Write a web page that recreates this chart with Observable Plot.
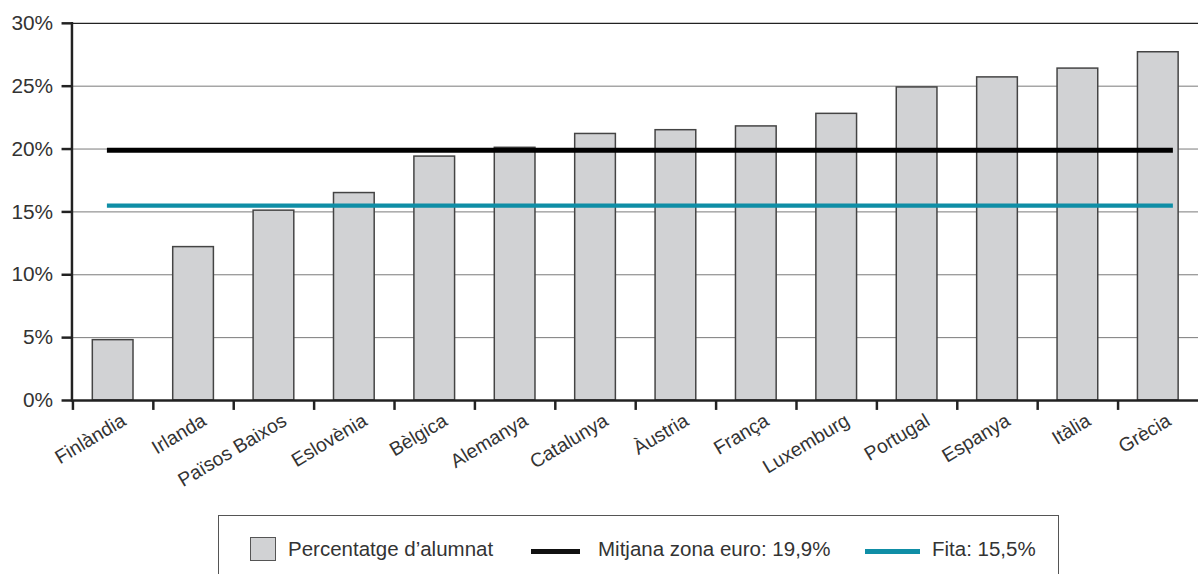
<!DOCTYPE html>
<html>
<head>
<meta charset="utf-8">
<script src="https://cdn.jsdelivr.net/npm/d3@7"></script>
<script src="https://cdn.jsdelivr.net/npm/@observablehq/plot@0.6"></script>
<style>
  html, body { margin: 0; padding: 0; background: #fff; overflow: hidden; }
  #wrap { position: relative; width: 1198px; height: 574px; overflow: hidden; font-family: "Liberation Sans", Arial, sans-serif; }
  #chart { position: absolute; left: 0; top: 0; }
  #chart .yax text { font-size: 21px; }
  #chart .xlab text { font-size: 19.5px; }
  #legend { position: absolute; left: 218px; top: 515px; width: 841px; height: 80px; border: 1px solid #555; box-sizing: border-box; }
  .lg { position: absolute; }
  .lt { position: absolute; font-size: 20.5px; line-height: 20px; color: #333; white-space: nowrap; }
</style>
</head>
<body>
<div id="wrap">
  <div id="chart"></div>
  <div id="legend"></div>
</div>
<script>
const countries = ["Finlàndia", "Irlanda", "Països Baixos", "Eslovènia", "Bèlgica", "Alemanya", "Catalunya", "Àustria", "França", "Luxemburg", "Portugal", "Espanya", "Itàlia", "Grècia"];
const values = [4.8, 12.2, 15.1, 16.5, 19.4, 20.1, 21.2, 21.5, 21.8, 22.8, 24.9, 25.7, 26.4, 27.7];
const euroMean = 19.9;
const target = 15.5;
const yTicks = [0, 5, 10, 15, 20, 25, 30];
const legendLabels = ["Percentatge d\u2019alumnat", "Mitjana zona euro: 19,9%", "Fita: 15,5%"];

const data = countries.map((c, i) => ({country: c, value: values[i]}));
const TEAL = "#0f8ea6";
const first = countries[0], last = countries[countries.length - 1];

const W = 1207;
const plot = Plot.plot({
  width: W,
  height: 500,
  marginLeft: 72,
  marginRight: 0,
  marginTop: 23,
  marginBottom: 97,
  style: {fontFamily: "Liberation Sans, Arial, sans-serif", fontSize: "19px", color: "#333", background: "transparent"},
  x: {domain: countries, paddingInner: 0.5, paddingOuter: 0.25, axis: null, label: null},
  y: {type: "linear", domain: [0, 30], axis: null, label: null},
  marks: [
    Plot.ruleY(yTicks.filter(d => d > 0 && d < 30), {stroke: "#7a7a7a", strokeWidth: 1}),
    Plot.ruleY([30], {stroke: "#222", strokeWidth: 1.2}),
    Plot.barY(data, {x: "country", y: "value", fill: "#d1d2d4", stroke: "#444", strokeWidth: 1.5}),
    Plot.ruleY([euroMean], {x1: () => first, x2: () => last, stroke: "#000", strokeWidth: 5, insetLeft: 14.7, insetRight: 5.3}),
    Plot.ruleY([target], {x1: () => first, x2: () => last, stroke: TEAL, strokeWidth: 4.5, insetLeft: 14.7, insetRight: 5.3}),
    Plot.frame({anchor: "left", stroke: "#222", strokeWidth: 2.5}),
    Plot.ruleY([0], {stroke: "#222", strokeWidth: 2.5}),
    Plot.axisY({ticks: yTicks, tickFormat: d => d + "%", tickSize: 10, tickPadding: 9, strokeWidth: 2.5, stroke: "#222", fill: "#333", label: null, className: "yax"}),
    Plot.ruleX(countries, {x: d => d, y1: 0, y2: 0, dx: -40.52, stroke: "#222", strokeWidth: 2.5, insetTop: 10}),
    Plot.text(countries, {x: d => d, y: 0, text: d => d, rotate: -31, textAnchor: "end", lineAnchor: "top", dx: 7, dy: 12, fill: "#333", className: "xlab"})
  ]
});
document.getElementById("chart").appendChild(plot);

// Legend
const lg = document.getElementById("legend");
function add(html) { lg.insertAdjacentHTML("beforeend", html); }
add(`<div class="lg" style="left:${250-219}px;top:${537-516}px;width:26px;height:24px;background:#d1d2d4;border:1.5px solid #555;box-sizing:border-box;"></div>`);
add(`<div class="lt" style="left:${288-219}px;top:${539-516}px;">${legendLabels[0]}</div>`);
add(`<div class="lg" style="left:${531-219}px;top:${549-516}px;width:49px;height:5px;background:#111;"></div>`);
add(`<div class="lt" style="left:${598-219}px;top:${539-516}px;">${legendLabels[1]}</div>`);
add(`<div class="lg" style="left:${865-219}px;top:${549-516}px;width:55px;height:4.5px;background:${TEAL};"></div>`);
add(`<div class="lt" style="left:${932-219}px;top:${539-516}px;">${legendLabels[2]}</div>`);
</script>
</body>
</html>
